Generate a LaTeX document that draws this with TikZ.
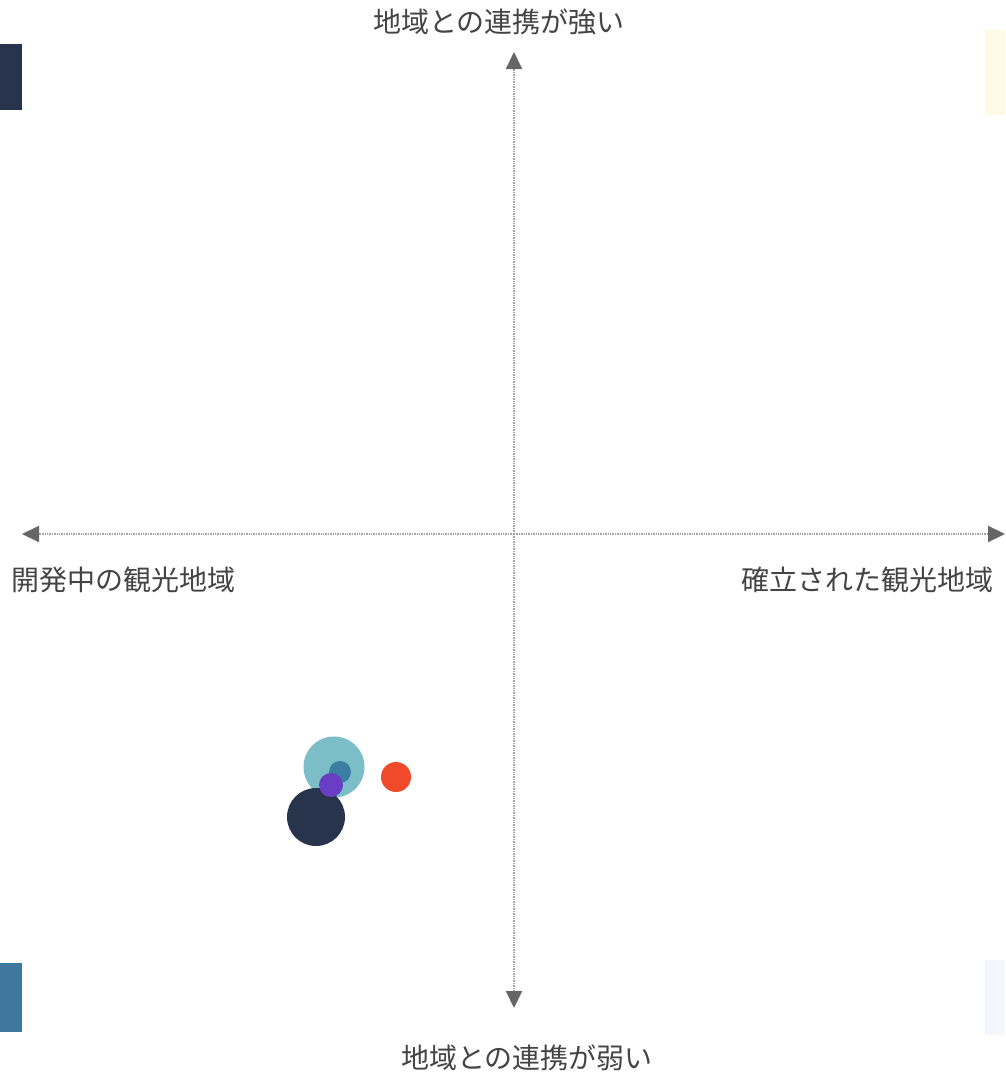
\documentclass[tikz,border=0pt]{standalone}
\usepackage{fontspec}
\setmainfont{Noto Sans CJK JP}
\usetikzlibrary{arrows.meta}
\definecolor{axisgray}{HTML}{A2A2A2}
\definecolor{tipgray}{HTML}{666666}
\definecolor{labelgray}{HTML}{444444}
\definecolor{navy}{HTML}{27344B}
\definecolor{steel}{HTML}{3F77A0}
\definecolor{tealc}{HTML}{7CBEC8}
\definecolor{smallblue}{HTML}{3A7FA3}
\definecolor{purplec}{HTML}{6A3EC4}
\definecolor{redc}{HTML}{F04A2A}
\definecolor{paleyellow}{HTML}{FFFAE6}
\definecolor{paleblue}{HTML}{F3F6FA}
\tikzset{
  axisline/.style={draw=axisgray, line width=2pt, dash pattern=on 1.4pt off 1pt,
    -{Triangle[width=16pt,length=17pt,fill=tipgray,color=tipgray]}},
  axislabel/.style={font=\fontsize{28}{32}\selectfont, text=labelgray, inner sep=0pt},
  bubble/.style={circle, inner sep=0pt, draw=none}
}
\begin{document}
\begin{tikzpicture}[x=1pt,y=-1pt]
\useasboundingbox (0,0) rectangle (1005,1079);
\fill[white] (0,0) rectangle (1005,1079);
% corner swatches
\fill[navy] (0,44) rectangle (22,110);
\fill[steel] (0,963) rectangle (22,1032);
\fill[paleyellow] (985,30) rectangle (1005,115);
\fill[paleblue] (985,960) rectangle (1005,1035);
% axes
\coordinate (c) at (514,534);
\coordinate (top) at (514,52);
\coordinate (bottom) at (514,1008);
\coordinate (left) at (22,534);
\coordinate (right) at (1005,534);
\draw[axisline] (c) -- (top);
\draw[axisline] (c) -- (bottom);
\draw[axisline] (c) -- (left);
\draw[axisline] (c) -- (right);
% axis labels
\node[axislabel] (lt) at (499,22) {地域との連携が強い};
\node[axislabel] (lb) at (527,1058) {地域との連携が弱い};
\node[axislabel, anchor=west] (ll) at (11,580) {開発中の観光地域};
\node[axislabel, anchor=east] (lr) at (994,580) {確立された観光地域};
% bubbles
\node[bubble, fill=tealc, minimum size=61pt] (b1) at (334,767) {};
\node[bubble, fill=navy, minimum size=58pt] (b2) at (316,817) {};
\node[bubble, fill=smallblue, minimum size=22pt] (b3) at (340,772) {};
\node[bubble, fill=purplec, minimum size=24pt] (b4) at (331,785) {};
\node[bubble, fill=redc, minimum size=30pt] (b5) at (396,777) {};
\end{tikzpicture}
\end{document}
